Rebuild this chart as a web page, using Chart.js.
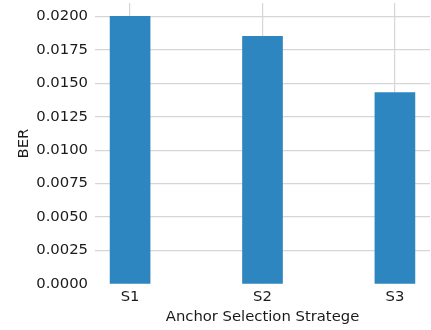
<!DOCTYPE html>
<html>
<head>
<meta charset="utf-8">
<script src="https://cdn.jsdelivr.net/npm/chart.js@4"></script>
<style>
  html, body { margin: 0; padding: 0; background: #fff; }
  #wrap { width: 431px; height: 330px; }
</style>
</head>
<body>
<div id="wrap"><canvas id="berChart" width="431" height="330"></canvas></div>
<script>
// strategies and their bit error rates
const strategies = ["S1", "S2", "S3"];
const berValues = [0.0200, 0.0185, 0.0143];
const yTicks = [0, 0.0025, 0.005, 0.0075, 0.01, 0.0125, 0.015, 0.0175, 0.02];

const font = { family: "DejaVu Sans", size: 14.8 };
const textColor = "#1a1a1a";
const gridColor = "#d6d6d6";

const ctx = document.getElementById("berChart").getContext("2d");
new Chart(ctx, {
  type: "bar",
  data: {
    datasets: [{
      data: berValues.map((v, i) => ({ x: i, y: v })),
      backgroundColor: "#2e86c1",
      borderWidth: 0,
      barThickness: 40
    }]
  },
  options: {
    responsive: false,
    animation: false,
    layout: { padding: { top: 3, right: 1, left: 0, bottom: 0 } },
    plugins: { legend: { display: false }, tooltip: { enabled: false } },
    scales: {
      x: {
        type: "linear",
        min: -0.265,
        max: 2.265,
        offset: false,
        border: { display: false },
        grid: { color: gridColor, lineWidth: 1.2, drawTicks: false, offset: false },
        afterBuildTicks: (scale) => {
          scale.ticks = strategies.map((_, i) => ({ value: i }));
        },
        afterFit: (scale) => {
          scale.height = 46;
          scale.paddingLeft = 0;
          scale.paddingRight = 0;
        },
        ticks: {
          color: textColor,
          font: font,
          padding: 4,
          maxRotation: 0,
          callback: (v) => strategies[v]
        },
        title: {
          display: true,
          text: "Anchor Selection Stratege",
          color: textColor,
          font: font,
          padding: { top: 0, bottom: 4 }
        }
      },
      y: {
        min: 0,
        max: 0.021,
        border: { display: false },
        grid: {
          color: (c) => (c.tick && c.tick.value === 0 ? "rgba(0,0,0,0)" : gridColor),
          lineWidth: 1.2,
          drawTicks: false
        },
        afterBuildTicks: (scale) => {
          scale.ticks = yTicks.map((v) => ({ value: v }));
        },
        afterFit: (scale) => {
          scale.width = 95;
          // labels stay inside the canvas, so no extra room above/below
          scale.paddingTop = 0;
          scale.paddingBottom = 0;
        },
        ticks: {
          color: textColor,
          font: font,
          padding: 7,
          callback: (v) => v.toFixed(4)
        },
        title: {
          display: true,
          text: "BER",
          color: textColor,
          font: font,
          padding: { top: 15, bottom: 0 }
        }
      }
    }
  }
});
</script>
</body>
</html>
